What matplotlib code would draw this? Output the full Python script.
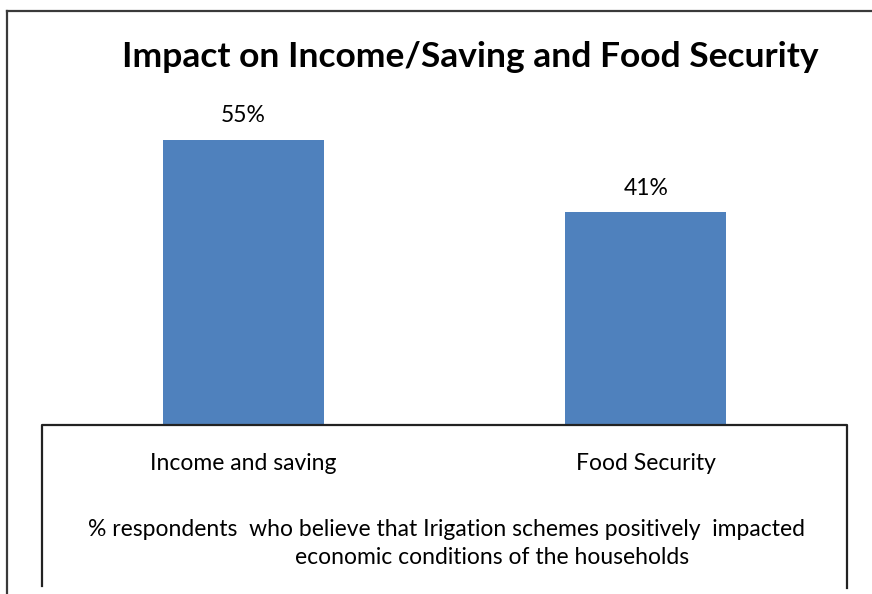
import matplotlib.pyplot as plt
from matplotlib.lines import Line2D

categories = ['Income and saving', 'Food Security']
values = [55, 41]
value_labels = ['55%', '41%']
title = 'Impact on Income/Saving and Food Security'
caption_1 = '% respondents  who believe that Irigation schemes positively  impacted'
caption_2 = 'economic conditions of the households'

W, H = 872, 594
fig = plt.figure(figsize=(W / 100, H / 100), dpi=100)


def fx(px):
    return px / W


def fy(py):
    return 1 - py / H


# plot area: baseline at y=425, spanning the inner box width
ax = fig.add_axes([fx(42), fy(425), fx(847) - fx(42), fy(114) - fy(425)])
x = range(len(categories))
ax.bar(x, values, width=0.4, color='#4F81BD')
ax.set_xlim(-0.5, 1.5)
ax.set_ylim(0, 60)
ax.axis('off')

for xi, v, lab in zip(x, values, value_labels):
    ax.annotate(lab, (xi, v), xytext=(0, 17.5), textcoords='offset points',
                ha='center', va='center', fontsize=16.5, family='Lato')

# category labels under the plot
for xi, cat in zip(x, categories):
    ax.annotate(cat, (xi, 0), xytext=(0, -27.5), textcoords='offset points',
                ha='center', va='center', fontsize=16.5, family='Lato')

fig.text(fx(470), fy(57), title, ha='center', va='center', fontsize=25.5,
         fontweight='bold', family='Lato')
fig.text(fx(447), fy(530), caption_1, ha='center', va='center', fontsize=16.5, family='Lato')
fig.text(fx(492), fy(557), caption_2, ha='center', va='center', fontsize=16.5, family='Lato')

# outer frame (top and left)
fig.add_artist(Line2D([fx(7), fx(872)], [fy(11), fy(11)], color='#3a3a3a', lw=1.6))
fig.add_artist(Line2D([fx(7), fx(7)], [fy(11), fy(594)], color='#3a3a3a', lw=1.6))
# inner box around the category labels
fig.add_artist(Line2D([fx(42), fx(42), fx(847), fx(847)],
                      [fy(586), fy(425), fy(425), fy(588)], color='#222222', lw=1.6))

fig.savefig('out.png', dpi=100)
